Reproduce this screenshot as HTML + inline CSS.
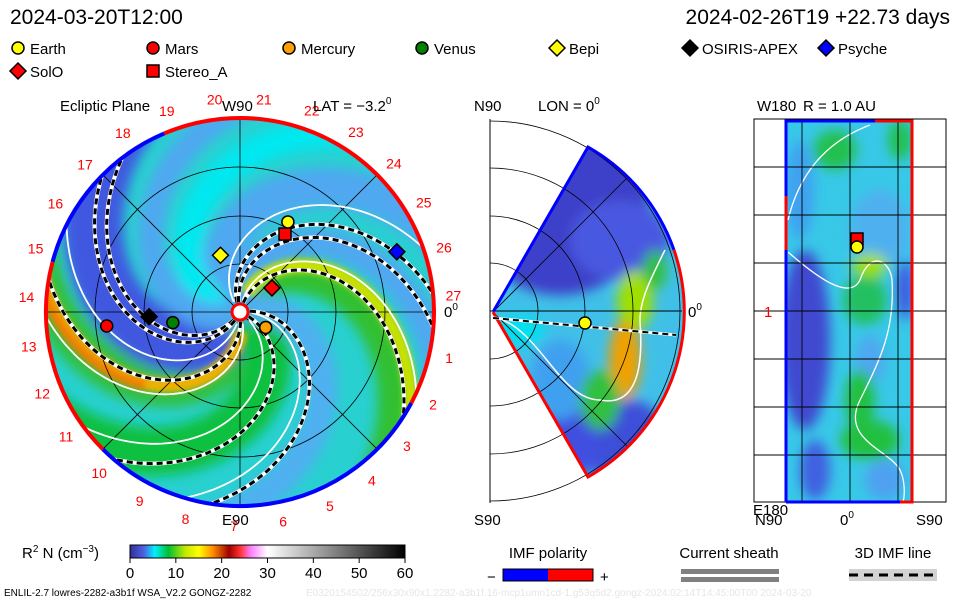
<!DOCTYPE html>
<html><head><meta charset="utf-8">
<style>
html,body{margin:0;padding:0;background:#fff;}
svg{display:block;font-family:"Liberation Sans",sans-serif;}
</style></head>
<body>
<svg id="s" width="960" height="600" viewBox="0 0 960 600" xmlns="http://www.w3.org/2000/svg">
<defs>
 <filter id="bl" x="-20%" y="-20%" width="140%" height="140%"><feGaussianBlur stdDeviation="6"/></filter>
 <filter id="bl2" x="-20%" y="-20%" width="140%" height="140%"><feGaussianBlur stdDeviation="3"/></filter>
 <clipPath id="cc"><circle cx="240" cy="312" r="194"/></clipPath>
 <clipPath id="wc"><path d="M493,312 L588,147 A190,190 0 0 1 588,477 Z"/></clipPath>
 <clipPath id="rc"><rect x="785" y="121" width="128" height="381"/></clipPath>
 <linearGradient id="cb" x1="0" x2="1" y1="0" y2="0">
  <stop offset="0" stop-color="#30309a"/><stop offset="0.05" stop-color="#5060e0"/>
  <stop offset="0.09" stop-color="#00f0ff"/><stop offset="0.14" stop-color="#00c030"/>
  <stop offset="0.2" stop-color="#c0e800"/><stop offset="0.25" stop-color="#ffff00"/>
  <stop offset="0.3" stop-color="#ff9000"/><stop offset="0.36" stop-color="#a00000"/>
  <stop offset="0.4" stop-color="#ff3030"/><stop offset="0.44" stop-color="#ff80ff"/>
  <stop offset="0.5" stop-color="#ffffff"/><stop offset="1" stop-color="#000000"/>
 </linearGradient>
</defs>
<g id="main"></g>
<g id="mid"></g>
<g id="right"></g>
<g id="legend"></g>
<text x="10" y="24" font-size="21">2024-03-20T12:00</text>
<text x="950" y="24" font-size="21" text-anchor="end">2024-02-26T19  +22.73 days</text>
<text x="60" y="111" font-size="15">Ecliptic Plane</text>
<text x="222" y="111" font-size="15">W90</text>
<text x="313" y="111" font-size="15">LAT = −3.2<tspan font-size="10" dy="-7">0</tspan></text>
<text x="222" y="525" font-size="15">E90</text>
<text x="444" y="317" font-size="15">0<tspan font-size="10" dy="-7">0</tspan></text>
<text x="474" y="111" font-size="15">N90</text>
<text x="538" y="111" font-size="15">LON = 0<tspan font-size="10" dy="-7">0</tspan></text>
<text x="688" y="317" font-size="15">0<tspan font-size="10" dy="-7">0</tspan></text>
<text x="474" y="525" font-size="15">S90</text>
<text x="757" y="111" font-size="15">W180</text>
<text x="803" y="111" font-size="15">R = 1.0 AU</text>
<text x="764" y="317" font-size="15" fill="#f00">1</text>
<text x="753" y="515" font-size="15">E180</text>
<text x="755" y="525" font-size="15">N90</text>
<text x="840" y="525" font-size="15">0<tspan font-size="10" dy="-7">0</tspan></text>
<text x="916" y="525" font-size="15">S90</text>
<text x="22" y="558" font-size="15">R<tspan font-size="10" dy="-6">2</tspan><tspan dy="6"> N (cm</tspan><tspan font-size="10" dy="-6">−3</tspan><tspan dy="6">)</tspan></text>
<rect x="130" y="545" width="275" height="13" fill="url(#cb)" stroke="#000" stroke-width="1"/>
<g id="cbt"></g>
<text x="548" y="558" font-size="15" text-anchor="middle">IMF polarity</text>
<text x="487" y="582" font-size="15">−</text>
<rect x="503" y="569" width="45" height="12" fill="#0000ff"/>
<rect x="548" y="569" width="45" height="12" fill="#ff0000"/>
<rect x="503" y="569" width="90" height="12" fill="none" stroke="#000"/>
<text x="600" y="582" font-size="15">+</text>
<text x="729" y="558" font-size="15" text-anchor="middle">Current sheath</text>
<rect x="681" y="569" width="98" height="5" fill="#808080"/>
<rect x="681" y="577" width="98" height="5" fill="#808080"/>
<text x="893" y="558" font-size="15" text-anchor="middle">3D IMF line</text>
<rect x="849" y="569" width="88" height="12" fill="#d3d3d3"/>
<line x1="849" y1="575" x2="937" y2="575" stroke="#000" stroke-width="3" stroke-dasharray="9,6"/>
<text x="4" y="596" font-size="10">ENLIL-2.7 lowres-2282-a3b1f WSA_V2.2 GONGZ-2282</text>
<text x="306" y="596" font-size="10" fill="#e6e6e6">E0320154502/256x30x90x1.2282-a3b1f.16-mcp1umn1cd-1.g53q5d2.gongz-2024:02:14T14:45:00T00   2024-03-20</text>
</svg>
<script>
var NS="http://www.w3.org/2000/svg";
function mk(p,t,a){var e=document.createElementNS(NS,t);for(var k in a)e.setAttribute(k,a[k]);p.appendChild(e);return e;}
var CX=240,CY=312,R=194;
var cbTicks=[0,10,20,30,40,50,60];
var dayLabels=[1,2,3,4,5,6,7,8,9,10,11,12,13,14,15,16,17,18,19,20,21,22,23,24,25,26,27];
var bodyNames=["Mars","OSIRIS-APEX","Venus","Mercury","SolO","Bepi","Stereo_A","Earth","Psyche"];
var bodyLon=[186,183,189,-31,37,109,60,62,21];
var bodyR=[134,91,68,30,40,60,90,102,168];
var armPhi=[283,70,245,140,330,20,175,205,100];
var armWidth=[44,34,60,40,48,30,28,26,30];
var armColor=["#30c040","#30c030","#4058e0","#50a8f0","#10c040","#50b0f0","#00e8f0","#50a8f0","#50a8f0"];
var coreArmPhi=[279,76];
var coreArmColor=["#f0b000","#c8e000"];
var dashPhi=[279,76,236,244,114,104,338,10];
var whitePhi=[290,84,262,128,325,2];
var polaritySeg=[[113,-28,"#ff0000"],[-28,-135,"#0000ff"],[-135,-195,"#ff0000"],[165,113,"#0000ff"]];

var cbt=document.getElementById('cbt');
cbTicks.forEach(function(v){var x=130+v/60*275;
 var l=mk(cbt,'line',{x1:x,y1:558,x2:x,y2:563,stroke:'#000'});
 
 var t=mk(cbt,'text',{x:x,y:578,'font-size':15,'text-anchor':'middle'});t.textContent=v;
 });

function P(r,deg){var a=deg*Math.PI/180;return [CX+r*Math.cos(a),CY-r*Math.sin(a)];}
function spiral(phi0,r0,r1){var pts=[];for(var r=r0;r<=r1;r+=3){var q=P(r,phi0-0.56*r);pts.push(q[0].toFixed(1)+','+q[1].toFixed(1));}return 'M'+pts.join(' L');}

var m=document.getElementById('main');
var cg=mk(m,'g',{'clip-path':'url(#cc)'});
var bg=mk(cg,'circle',{cx:CX,cy:CY,r:R,fill:'#28d0d0'});

var bgroup=mk(cg,'g',{filter:'url(#bl)'});
armPhi.forEach(function(p,i){var e=mk(bgroup,'path',{d:spiral(p,5,260),fill:'none',stroke:armColor[i],'stroke-width':armWidth[i]});
 });
var cgrp=mk(cg,'g',{filter:'url(#bl2)'});
coreArmPhi.forEach(function(p,i){var e=mk(cgrp,'path',{d:spiral(p+4,20,260),fill:'none',stroke:coreArmColor[i],'stroke-width':14});
 });
var o=mk(cgrp,'path',{d:spiral(285,120,260),fill:'none',stroke:'#f08000','stroke-width':10});

[48,96,145].forEach(function(r){var c=mk(m,'circle',{cx:CX,cy:CY,r:r,fill:'none',stroke:'#000','stroke-width':0.8});
 });
[0,45,90,135].forEach(function(a){var p1=P(R,a),p2=P(R,a+180);var l=mk(m,'line',{x1:p1[0],y1:p1[1],x2:p2[0],y2:p2[1],stroke:'#000','stroke-width':0.8});
 });
var g2=mk(m,'g',{'clip-path':'url(#cc)'});
whitePhi.forEach(function(p){var e=mk(g2,'path',{d:spiral(p,12,260),fill:'none',stroke:'#fff','stroke-width':1.8});
 });
dashPhi.forEach(function(p){var e=mk(g2,'path',{d:spiral(p,10,260),fill:'none',stroke:'#fff','stroke-width':4});
 
 var f=mk(g2,'path',{d:spiral(p,10,260),fill:'none',stroke:'#000','stroke-width':3,'stroke-dasharray':'6,4'});
 });
function arc(r,a1,a2){var p1=P(r,a1),p2=P(r,a2);var large=Math.abs(a1-a2)>180?1:0;return 'M'+p1[0]+','+p1[1]+' A'+r+','+r+' 0 '+large+' 1 '+p2[0]+','+p2[1];}
polaritySeg.forEach(function(s){var e=mk(m,'path',{d:arc(R,s[0],s[1]),fill:'none',stroke:s[2],'stroke-width':4});
 });
var sun=mk(m,'circle',{cx:CX,cy:CY,r:8,fill:'#fff',stroke:'#f00','stroke-width':3});

dayLabels.forEach(function(k){var a=k>=14?4.4+(27-k)*13.2:4.4-(k+0.27)*13.2;var q=P(214,a);
 var t=mk(m,'text',{x:q[0],y:q[1]+5,'font-size':14,fill:'#f00','text-anchor':'middle'});t.textContent=k;
 });
var styles={"Earth":["c","#ffff00"],"Mars":["c","#ff0000"],"Mercury":["c","#ffa000"],"Venus":["c","#008000"],"Bepi":["d","#ffff00"],"OSIRIS-APEX":["d","#000"],"Psyche":["d","#0000ff"],"SolO":["d","#ff0000"],"Stereo_A":["s","#ff0000"]};
function marker(par,x,y,st,name){var e;
 if(st[0]=="c")e=mk(par,'circle',{cx:x,cy:y,r:6,fill:st[1],stroke:'#000','stroke-width':1.5});
 else if(st[0]=="d")e=mk(par,'path',{d:'M'+x+','+(y-8)+' L'+(x+8)+','+y+' L'+x+','+(y+8)+' L'+(x-8)+','+y+'Z',fill:st[1],stroke:'#000','stroke-width':1.5});
 else e=mk(par,'rect',{x:x-6,y:y-6,width:12,height:12,fill:st[1],stroke:'#000','stroke-width':1.5});
 }
bodyNames.forEach(function(n,i){var q=P(bodyR[i],bodyLon[i]);marker(m,q[0],q[1],styles[n],n.toLowerCase()+'-marker');});
var lg=document.getElementById('legend');
var legItems=[["Earth",18,48],["Mars",153,48],["Mercury",289,48],["Venus",422,48],["Bepi",557,48],["OSIRIS-APEX",690,48],["Psyche",826,48],["SolO",18,71],["Stereo_A",153,71]];
legItems.forEach(function(it){marker(lg,it[1],it[2],styles[it[0]],'legend-marker');
 var t=mk(lg,'text',{x:it[1]+12,y:it[2]+6,'font-size':15});t.textContent=it[0];
 });
var md=document.getElementById('mid');var AX=493,AY=312;
var wg=mk(md,'g',{'clip-path':'url(#wc)'});
var wb=mk(wg,'rect',{x:480,y:130,width:220,height:360,fill:'#40c0e8'});
var wf=mk(wg,'g',{filter:'url(#bl)'});
var blobs=[[560,210,90,85,'#3c40c8'],[620,240,50,40,'#4858e0'],[630,450,40,50,'#3c50d8'],[570,440,30,40,'#4050e0'],[560,380,30,40,'#40a0f0'],[635,300,18,30,'#a0e000'],[625,360,16,40,'#f0a000'],[655,270,12,20,'#30c040'],[600,400,20,30,'#30c040'],[520,330,25,15,'#00e0f0']];
blobs.forEach(function(b){var e=mk(wf,'ellipse',{cx:b[0],cy:b[1],rx:b[2],ry:b[3],fill:b[4]});});
var wl=mk(wg,'path',{d:'M497,318 C540,330 560,400 600,400 C650,410 640,330 640,320 C640,300 650,280 665,250',fill:'none',stroke:'#fff','stroke-width':1.5});

[48,95,143,190].forEach(function(r){var e=mk(md,'path',{d:'M490,'+(311-r)+' A'+r+','+r+' 0 0 1 490,'+(311+r),fill:'none',stroke:'#000','stroke-width':0.8});
 });
var ax1=mk(md,'line',{x1:490,y1:119,x2:490,y2:503,stroke:'#000'});
var ax2=mk(md,'line',{x1:490,y1:311,x2:682,y2:311,stroke:'#000'});
[45,-45].forEach(function(a){var r=a*Math.PI/180;var e=mk(md,'line',{x1:AX,y1:AY,x2:AX+190*Math.cos(r),y2:AY-190*Math.sin(r),stroke:'#000','stroke-width':0.8});
 });
var ed=mk(md,'path',{d:'M493,312 L588,147 A190,190 0 0 1 674,250',fill:'none',stroke:'#0000ff','stroke-width':3});
var ed2=mk(md,'path',{d:'M674,250 A190,190 0 0 1 588,477 L493,312',fill:'none',stroke:'#ff0000','stroke-width':3});
var dl=mk(md,'line',{x1:493,y1:318,x2:676,y2:335,stroke:'#fff','stroke-width':3});
var dl2=mk(md,'line',{x1:493,y1:318,x2:676,y2:335,stroke:'#000','stroke-width':2,'stroke-dasharray':'6,4'});
marker(md,585,323,styles.Earth,'earth-marker-mid');
var rp=document.getElementById('right');
var rg=mk(rp,'g',{'clip-path':'url(#rc)'});
var rb=mk(rg,'rect',{x:785,y:121,width:128,height:381,fill:'#38c8e8'});
var rf=mk(rg,'g',{filter:'url(#bl)'});
var rblobs=[[805,340,25,90,'#4048d0'],[800,190,14,50,'#40a0f0'],[880,230,30,40,'#50b0f0'],[870,360,15,25,'#50a8f0'],[865,300,22,25,'#20c060'],[870,265,18,12,'#a0e000'],[835,150,22,20,'#20c050'],[870,440,30,20,'#20c040'],[815,470,15,30,'#4060e0'],[885,480,20,20,'#50a0f0'],[905,290,8,30,'#4050e0'],[860,400,15,30,'#20c040'],[900,140,12,20,'#20c050']];
rblobs.forEach(function(b){var e=mk(rf,'ellipse',{cx:b[0],cy:b[1],rx:b[2],ry:b[3],fill:b[4]});});
var rl=mk(rg,'path',{d:'M788,220 C800,170 830,140 870,125 M788,252 C820,280 850,300 860,280 C870,250 890,260 892,280 C895,330 880,360 860,400 C840,440 890,450 900,470 C905,480 905,495 903,502',fill:'none',stroke:'#fff','stroke-width':1.3});

for(var i=1;i<8;i++){var y=119+i*48;var e=mk(rp,'line',{x1:754,y1:y,x2:946,y2:y,stroke:'#000','stroke-width':0.9});}
[802,850,898].forEach(function(x){var e=mk(rp,'line',{x1:x,y1:121,x2:x,y2:502,stroke:'#000','stroke-width':0.9});});
var fr=mk(rp,'rect',{x:754,y:119,width:192,height:383,fill:'none',stroke:'#000'});
var bl1=mk(rp,'path',{d:'M786,502 L786,121 L875,121',fill:'none',stroke:'#0000ff','stroke-width':3});
var bl1b=mk(rp,'line',{x1:786,y1:196,x2:786,y2:250,stroke:'#ff0000','stroke-width':3});
var bl2=mk(rp,'path',{d:'M875,121 L912,121 L912,502 L900,502',fill:'none',stroke:'#ff0000','stroke-width':3});
var bl3=mk(rp,'line',{x1:786,y1:502,x2:900,y2:502,stroke:'#0000ff','stroke-width':3});
marker(rp,857,239,styles.Stereo_A,'stereo-a-marker-right');
marker(rp,857,247,styles.Earth,'earth-marker-right');
</script>
</body></html>
